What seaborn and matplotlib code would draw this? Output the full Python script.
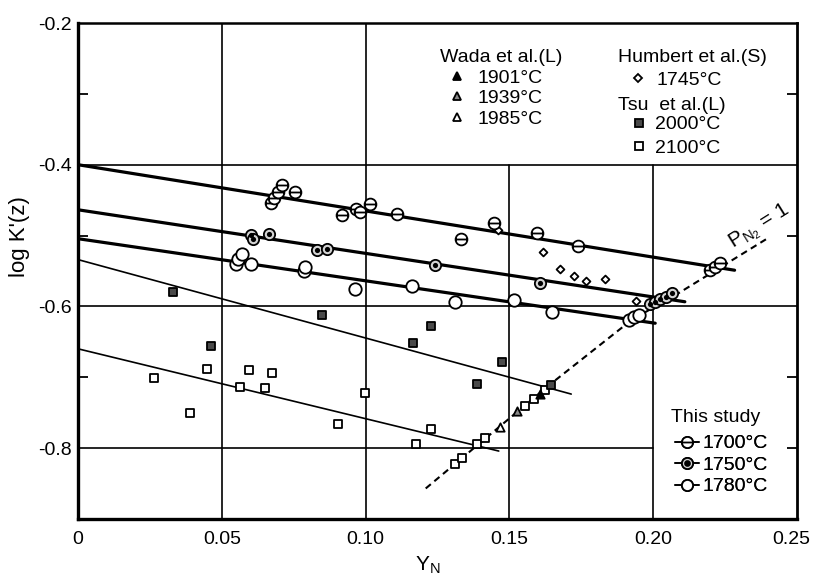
import matplotlib
matplotlib.use("Agg")
import matplotlib.pyplot as plt
from matplotlib.path import Path
from matplotlib.lines import Line2D
from matplotlib.legend_handler import HandlerTuple
from matplotlib.transforms import ScaledTranslation
import seaborn as sns

# ---------------- this study ----------------
t1700_x = [0.0671, 0.0683, 0.0694, 0.0708, 0.0754, 0.0917, 0.0967, 0.0982, 0.1014,
           0.1110, 0.1332, 0.1447, 0.1596, 0.1737, 0.2197, 0.2214, 0.2234]
t1700_y = [-0.4538, -0.4468, -0.4389, -0.4285, -0.4379, -0.4712, -0.4622, -0.4670, -0.4552,
           -0.4702, -0.5044, -0.4824, -0.4959, -0.5152, -0.5489, -0.5442, -0.5386]

t1750_x = [0.0602, 0.0607, 0.0664, 0.0832, 0.0867, 0.1242, 0.1607, 0.1990, 0.2007,
           0.2024, 0.2044, 0.2064]
t1750_y = [-0.4987, -0.5044, -0.4973, -0.5198, -0.5194, -0.5419, -0.5676, -0.5960, -0.5934,
           -0.5900, -0.5864, -0.5816]

t1780_x = [0.0551, 0.0556, 0.0570, 0.0601, 0.0786, 0.0789, 0.0962, 0.1162, 0.1311,
           0.1515, 0.1648, 0.1915, 0.1932, 0.1949]
t1780_y = [-0.5404, -0.5324, -0.5254, -0.5395, -0.5499, -0.5442, -0.5756, -0.5713, -0.5934,
           -0.5910, -0.6074, -0.6191, -0.6153, -0.6121]

# ---------------- literature ----------------
humbert1745_x = [0.1461, 0.1616, 0.1677, 0.1725, 0.1768, 0.1834, 0.1940]
humbert1745_y = [-0.4927, -0.5232, -0.5470, -0.5573, -0.5643, -0.5619, -0.5920]

tsu2000_x = [0.0329, 0.0463, 0.0848, 0.1164, 0.1228, 0.1388, 0.1475, 0.1645]
tsu2000_y = [-0.5794, -0.6556, -0.6121, -0.6510, -0.6275, -0.7090, -0.6791, -0.7104]

tsu2100_x = [0.0265, 0.0389, 0.0447, 0.0565, 0.0595, 0.0650, 0.0673, 0.0904, 0.0998,
             0.1176, 0.1226, 0.1312, 0.1335, 0.1387, 0.1414, 0.1555, 0.1585, 0.1623]
tsu2100_y = [-0.7015, -0.7511, -0.6883, -0.7132, -0.6893, -0.7156, -0.6940, -0.7666, -0.7221,
             -0.7937, -0.7736, -0.8218, -0.8134, -0.7947, -0.7853, -0.7409, -0.7305, -0.7186]

wada1901_x = [0.1607]
wada1901_y = [-0.7230]
wada1939_x = [0.1527]
wada1939_y = [-0.7479]
wada1985_x = [0.1466]
wada1985_y = [-0.7698]

# ---------------- fitted lines (1700, 1750, 1780, 2000, 2100 C) ----------------
fit_x_start = [0.0, 0.0, 0.0, 0.0, 0.0]
fit_x_end = [0.2283, 0.2110, 0.2007, 0.1715, 0.1463]
fit_y_start = [-0.4000, -0.4636, -0.5044, -0.5339, -0.6598]
fit_y_end = [-0.5489, -0.5934, -0.6237, -0.7237, -0.8041]
fit_bold = [True, True, True, False, False]

# ---------------- P_N2 = 1 boundary ----------------
pn2_x = [0.1209, 0.1636, 0.1925, 0.2087, 0.2392]
pn2_y = [-0.8569, -0.7118, -0.6191, -0.5816, -0.5053]

# ---------------- axis ticks ----------------
x_ticks = [0.0, 0.05, 0.10, 0.15, 0.20, 0.25]
x_tick_labels = ["0", "0.05", "0.10", "0.15", "0.20", "0.25"]
y_ticks = [-0.2, -0.4, -0.6, -0.8]
y_tick_labels = ["-0.2", "-0.4", "-0.6", "-0.8"]
y_minor = [-0.3, -0.5, -0.7]

# ---------------- style ----------------
sns.set_theme(style="ticks")
plt.rcParams["font.family"] = ["Liberation Sans", "DejaVu Sans"]
plt.rcParams["mathtext.fontset"] = "custom"
plt.rcParams["mathtext.rm"] = "Liberation Sans"
plt.rcParams["mathtext.it"] = "Liberation Sans"
plt.rcParams["axes.edgecolor"] = "black"
plt.rcParams["xtick.color"] = "black"
plt.rcParams["ytick.color"] = "black"
plt.rcParams["text.color"] = "black"
plt.rcParams["axes.labelcolor"] = "black"

FS = 14
W, H = 813, 575
AX_L, AX_R, AX_T, AX_B = 78, 797, 23, 519

fig = plt.figure(figsize=(W / 100, H / 100), dpi=100)
ax = fig.add_axes([AX_L / W, 1 - AX_B / H, (AX_R - AX_L) / W, (AX_B - AX_T) / H])
ax.set_facecolor("white")
ax.set_xlim(0, 0.25)
ax.set_ylim(-0.9, -0.2)


def at(px, py):
    """Pixel position (from top-left of the figure) -> axes fraction."""
    return ((px - AX_L) / (AX_R - AX_L), (AX_B - py) / (AX_B - AX_T))


# grid: full lines except where the key blocks sit
GRID_LW = 1.2
for xv in [0.05, 0.10]:
    ax.axvline(xv, color="black", lw=GRID_LW, zorder=1)
for xv in [0.15, 0.20]:
    ax.axvline(xv, ymin=0, ymax=(-0.4 + 0.9) / 0.7, color="black", lw=GRID_LW, zorder=1)
for yv in [-0.4, -0.6]:
    ax.axhline(yv, color="black", lw=GRID_LW, zorder=1)
ax.axhline(-0.8, xmin=0, xmax=0.20 / 0.25, color="black", lw=GRID_LW, zorder=1)

# fitted isotherms
for x0, x1, y0, y1, bold in zip(fit_x_start, fit_x_end, fit_y_start, fit_y_end, fit_bold):
    sns.lineplot(x=[x0, x1], y=[y0, y1], ax=ax, color="black",
                 lw=2.3 if bold else 1.2, estimator=None, sort=False, zorder=2)

# P_N2 = 1 boundary
sns.lineplot(x=pn2_x, y=pn2_y, ax=ax, color="black", lw=1.5, estimator=None, sort=False,
             linestyle=(0, (3.2, 2.2)), zorder=2)
ax.text(0.2290, -0.5270, r"P$_{\mathregular{N_2}}$ = 1", fontsize=15, rotation=32,
        rotation_mode="anchor", ha="left", va="bottom", zorder=6)

# marker shapes
bar_circle = Path.make_compound_path(
    Path.unit_circle(), Path([[-1.0, 0.0], [1.0, 0.0]], [Path.MOVETO, Path.LINETO]))

EDGE = 1.3
# literature data
sns.scatterplot(x=tsu2100_x, y=tsu2100_y, ax=ax, marker="s", s=30, color="white",
                edgecolor="black", linewidth=1.3, zorder=4)
sns.scatterplot(x=tsu2000_x, y=tsu2000_y, ax=ax, marker="s", s=30, color="#4a4a4a",
                edgecolor="black", linewidth=1.3, zorder=4)
sns.scatterplot(x=humbert1745_x, y=humbert1745_y, ax=ax, marker="D", s=16, color="white",
                edgecolor="black", linewidth=1.3, zorder=4)
sns.scatterplot(x=wada1985_x, y=wada1985_y, ax=ax, marker="^", s=36, color="white",
                edgecolor="black", linewidth=1.3, zorder=4)
sns.scatterplot(x=wada1939_x, y=wada1939_y, ax=ax, marker="^", s=36, color="#8a8a8a",
                edgecolor="black", linewidth=1.3, zorder=4)
sns.scatterplot(x=wada1901_x, y=wada1901_y, ax=ax, marker="^", s=36, color="black",
                edgecolor="black", linewidth=1.3, zorder=4)

# this study
sns.scatterplot(x=t1780_x, y=t1780_y, ax=ax, marker="o", s=80, color="white",
                edgecolor="black", linewidth=EDGE, zorder=5)
sns.scatterplot(x=t1750_x, y=t1750_y, ax=ax, marker="o", s=66, color="#d4d4d4",
                edgecolor="black", linewidth=EDGE, zorder=5)
sns.scatterplot(x=t1750_x, y=t1750_y, ax=ax, marker="o", s=14, color="black",
                edgecolor="black", linewidth=0, zorder=5)
sns.scatterplot(x=t1700_x, y=t1700_y, ax=ax, marker=bar_circle, s=72, color="white",
                edgecolor="black", linewidth=EDGE, zorder=5)

# axes, ticks
ax.set_xticks(x_ticks)
ax.set_xticklabels(x_tick_labels, fontsize=FS)
ax.set_yticks(y_ticks)
ax.set_yticklabels(y_tick_labels, fontsize=FS)
ax.set_yticks(y_minor, minor=True)
ax.set_xticks([0.15, 0.20], minor=True)
ax.tick_params(axis="both", which="major", direction="in", length=0, width=1.3)
ax.tick_params(axis="y", which="major", pad=4.5)
ax.tick_params(axis="x", which="major", pad=9)
ax.tick_params(axis="y", which="minor", direction="in", length=7, width=1.3,
               left=True, right=True)
ax.tick_params(axis="x", which="minor", direction="in", length=7, width=1.3,
               top=True, bottom=False)
ax.yaxis.set_ticks_position("both")
ax.tick_params(axis="y", which="major", right=False, left=False)
# short tick on the right where the -0.8 grid line stops
ax2 = ax.secondary_yaxis("right")
ax2.set_yticks([-0.8])
ax2.set_yticklabels([""])
ax2.tick_params(direction="in", length=7, width=1.3)
ax2.spines["right"].set_visible(False)

# keep the last x label inside the figure
last = ax.get_xticklabels()[-1]
last.set_transform(last.get_transform() + ScaledTranslation(-0.06, 0, fig.dpi_scale_trans))

for side, lw in [("left", 2.4), ("bottom", 2.4), ("top", 1.8), ("right", 2.0)]:
    ax.spines[side].set_linewidth(lw)
    ax.spines[side].set_color("black")

ax.set_xlabel(r"Y$_\mathregular{N}$", fontsize=15)
ax.xaxis.set_label_coords(*at(428, 555))
ax.set_ylabel("log K'(z)", fontsize=16)
ax.yaxis.set_label_coords(*at(30, 237))


# key blocks
def key(handles, labels, px, py, hl, pad, spacing):
    leg = ax.legend(handles, labels, loc="center left", bbox_to_anchor=at(px, py),
                    bbox_transform=ax.transAxes, frameon=False, borderpad=0,
                    borderaxespad=0, handlelength=hl, handletextpad=pad,
                    labelspacing=spacing, fontsize=FS,
                    handler_map={tuple: HandlerTuple(ndivide=1)})
    ax.add_artist(leg)
    return leg


def mk(marker, size, face, line=False):
    return Line2D([], [], marker=marker, markersize=size, markerfacecolor=face,
                  markeredgecolor="black", markeredgewidth=1.3, color="black",
                  linestyle="-" if line else "None", lw=1.2)


ax.text(*at(440, 57), "Wada et al.(L)", transform=ax.transAxes, fontsize=FS,
        ha="left", va="center")
key([mk("^", 6, "black"), mk("^", 6, "#8a8a8a"), mk("^", 6, "white")],
    ["1901°C", "1939°C", "1985°C"], 449, 98.5, 0.8, 0.68, 0.15)

ax.text(*at(618, 57), "Humbert et al.(S)", transform=ax.transAxes, fontsize=FS,
        ha="left", va="center")
key([mk("D", 4, "white")], ["1745°C"], 630, 80, 0.8, 0.58, 0.0)

ax.text(*at(618, 105), "Tsu  et al.(L)", transform=ax.transAxes, fontsize=FS,
        ha="left", va="center")
key([mk("s", 5.5, "#4a4a4a"), mk("s", 5.5, "white")], ["2000°C", "2100°C"],
    631, 136.5, 0.8, 0.42, 0.32)

ax.text(*at(671, 417), "This study", transform=ax.transAxes, fontsize=FS,
        ha="left", va="center")
key([mk(bar_circle, 8, "white", line=True),
     (mk("o", 8, "#d4d4d4", line=True), mk("o", 3.5, "black")),
     mk("o", 8, "white", line=True)],
    ["1700°C", "1750°C", "1780°C"], 675, 465, 1.24, 0.15, 0.2)

fig.savefig("out.png", dpi=100, facecolor="white")
